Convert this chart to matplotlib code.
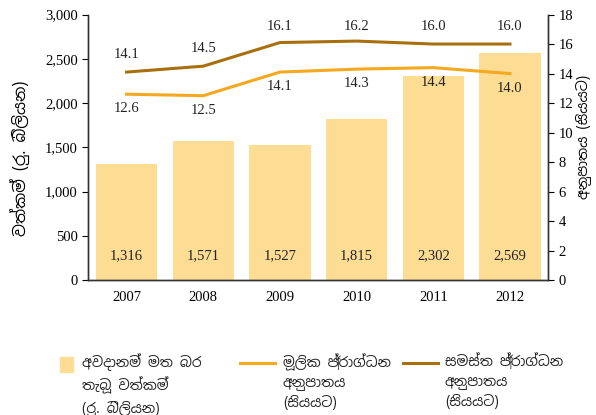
import matplotlib

matplotlib.use("Agg")
import matplotlib.pyplot as plt  # noqa: E402
from matplotlib import font_manager  # noqa: E402
from matplotlib.patches import Rectangle  # noqa: E402
from matplotlib.lines import Line2D  # noqa: E402

years = ["2007", "2008", "2009", "2010", "2011", "2012"]
assets = [1316, 1571, 1527, 1815, 2302, 2569]          # Rs. billion
core_ratio = [12.6, 12.5, 14.1, 14.3, 14.4, 14.0]      # per cent
total_ratio = [14.1, 14.5, 16.1, 16.2, 16.0, 16.0]     # per cent

legend_labels = [
    "අවදානම් මත බර\nතැබූ වත්කම්\n(රු. බිලියන)",
    "මූලික ප්‍රාග්ධන\nඅනුපාතය\n(සියයට)",
    "සමස්ත ප්‍රාග්ධන\nඅනුපාතය\n(සියයට)",
]

BAR = "#fddc94"
CORE = "#f6a81e"
TOTAL = "#a8700c"
TEXT = "#222222"

# Sinhala glyphs: use a Sinhala-capable family if one is installed
sinhala = [f.name for f in font_manager.fontManager.ttflist if "Sinhala" in f.name]
SANS = sinhala[:1] + ["Noto Sans", "DejaVu Sans"]
SERIF = ["Liberation Serif", "DejaVu Serif"]

plt.rcParams.update({
    "font.family": SERIF,
    "font.size": 10.5,
    "text.color": TEXT,
    "axes.edgecolor": "#333333",
    "axes.linewidth": 1.0,
})

fig = plt.figure(figsize=(5.96, 4.15), dpi=100)
ax = fig.add_axes([0.148, 0.325, 0.772, 0.64])
ax2 = ax.twinx()

x = range(len(years))
ax.bar(x, assets, width=0.8, color=BAR, zorder=1)
for i, v in enumerate(assets):
    ax.text(i, 280, f"{v:,}", ha="center", va="center")

ax.set_xlim(-0.5, len(years) - 0.5)
ax.set_ylim(0, 3000)
ax.set_yticks(range(0, 3001, 500))
ax.set_yticklabels([f"{v:,}" for v in range(0, 3001, 500)])
ax.set_xticks(list(x), years)
ax.tick_params(axis="x", length=0, pad=8)
ax.tick_params(axis="y", direction="out", length=4)
ax.spines["top"].set_visible(False)
ax.set_ylabel("වත්කම් (රු. බිලියන)", family=SANS, fontsize=11.5, labelpad=11)
ax.yaxis.label.set_y(0.46)

ax2.plot(x, total_ratio, color=TOTAL, lw=2.2)
ax2.plot(x, core_ratio, color=CORE, lw=2.2)
for i, v in enumerate(total_ratio):
    ax2.text(i, min(v + 1.2, 17.2), f"{v:.1f}", ha="center", va="center")
for i, v in enumerate(core_ratio):
    ax2.text(i, v - 1.0, f"{v:.1f}", ha="center", va="center")
ax2.set_ylim(0, 18)
ax2.set_yticks(range(0, 19, 2))
ax2.tick_params(axis="y", direction="out", length=4)
ax2.spines["top"].set_visible(False)
ax2.set_ylabel("අනුපාතය (සියයට)", family=SANS, fontsize=10, labelpad=1)
ax2.yaxis.label.set_y(0.54)

# legend keys sit level with the first line of each three-line label
fig.add_artist(Rectangle((0.1007, 0.1036), 0.0218, 0.036, color=BAR,
                         transform=fig.transFigure))
fig.add_artist(Line2D([0.4027, 0.4614], [0.1253, 0.1253], color=CORE, lw=2.2,
                      transform=fig.transFigure))
fig.add_artist(Line2D([0.676, 0.735], [0.1253, 0.1253], color=TOTAL, lw=2.2,
                      transform=fig.transFigure))
for xt, lab in zip([0.1376, 0.4748, 0.7466], legend_labels):
    fig.text(xt, 0.148, lab, family=SANS, fontsize=10, va="top", ha="left",
             linespacing=1.45)

fig.savefig("out.png", dpi=100)
